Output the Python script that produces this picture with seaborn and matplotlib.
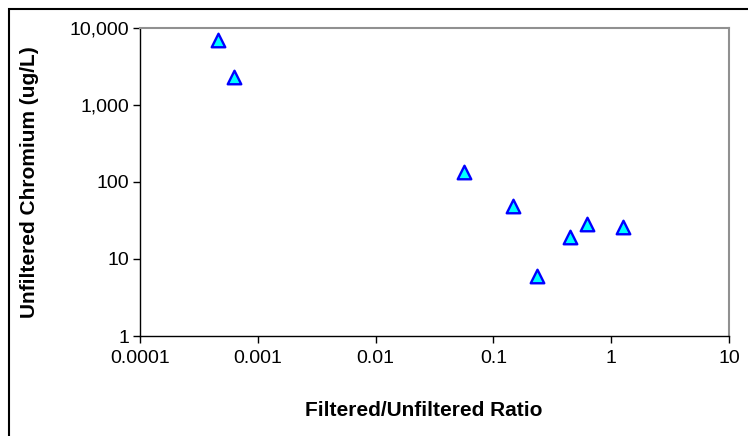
import matplotlib
matplotlib.use("Agg")
import matplotlib.pyplot as plt
import matplotlib.ticker as mticker
from matplotlib.patches import Rectangle
import seaborn as sns
import pandas as pd

ratio = [0.000459, 0.00063, 0.0562, 0.146, 0.236, 0.447, 0.619, 1.253]
chromium = [6840, 2276, 135.6, 48.3, 6.0, 19.1, 28.5, 25.8]
x_ticks = [0.0001, 0.001, 0.01, 0.1, 1, 10]
x_tick_labels = ["0.0001", "0.001", "0.01", "0.1", "1", "10"]
y_ticks = [1, 10, 100, 1000, 10000]
y_tick_labels = ["1", "10", "100", "1,000", "10,000"]

df = pd.DataFrame({"ratio": ratio, "chromium": chromium})

sns.set_style("white")
plt.rcParams["font.family"] = ["Liberation Sans", "DejaVu Sans"]
plt.rcParams["text.color"] = "black"
plt.rcParams["axes.labelcolor"] = "black"
plt.rcParams["xtick.color"] = "black"
plt.rcParams["ytick.color"] = "black"

fig = plt.figure(figsize=(7.48, 4.36), dpi=100)
ax = fig.add_axes([140 / 748, 1 - 336 / 436, (729 - 140) / 748, (336 - 27.5) / 436])

sns.scatterplot(data=df, x="ratio", y="chromium", marker="^", s=95,
                color="#00FFFF", edgecolor="#0000FF", linewidth=1.7, ax=ax,
                zorder=3, clip_on=False)

ax.set_xscale("log")
ax.set_yscale("log")
ax.set_xlim(0.0001, 10)
ax.set_ylim(1, 10000)
ax.xaxis.set_major_locator(mticker.FixedLocator(x_ticks))
ax.xaxis.set_major_formatter(mticker.FixedFormatter(x_tick_labels))
ax.yaxis.set_major_locator(mticker.FixedLocator(y_ticks))
ax.yaxis.set_major_formatter(mticker.FixedFormatter(y_tick_labels))
ax.xaxis.set_minor_locator(mticker.NullLocator())
ax.yaxis.set_minor_locator(mticker.NullLocator())

ax.tick_params(axis="both", which="major", direction="out", length=5, width=1,
               color="black", labelcolor="black", labelsize=14, bottom=True, left=True)
ax.tick_params(axis="x", pad=5)
ax.tick_params(axis="y", pad=3)

for side in ["left", "bottom"]:
    ax.spines[side].set_color("black")
    ax.spines[side].set_linewidth(1.0)
for side in ["top", "right"]:
    ax.spines[side].set_color("#909090")
    ax.spines[side].set_linewidth(1.5)

ax.set_xlabel("Filtered/Unfiltered Ratio", fontsize=15, fontweight="bold", color="black")
ax.set_ylabel("Unfiltered Chromium (ug/L)", fontsize=15, fontweight="bold", color="black")
ax.xaxis.set_label_coords((423.5 - 140) / 589, (336 - 410) / 308.5)
ax.xaxis.label.set_va("center")
ax.yaxis.set_label_coords((30 - 140) / 589, 0.5)
ax.yaxis.label.set_va("center")
ax.yaxis.label.set_ha("center")

fig.patches.append(Rectangle((9 / 748, -0.1), 1.2, 1.1 - 9 / 436, transform=fig.transFigure,
                             fill=False, edgecolor="black", linewidth=1.5, clip_on=False))

fig.savefig("out.png", dpi=100)
